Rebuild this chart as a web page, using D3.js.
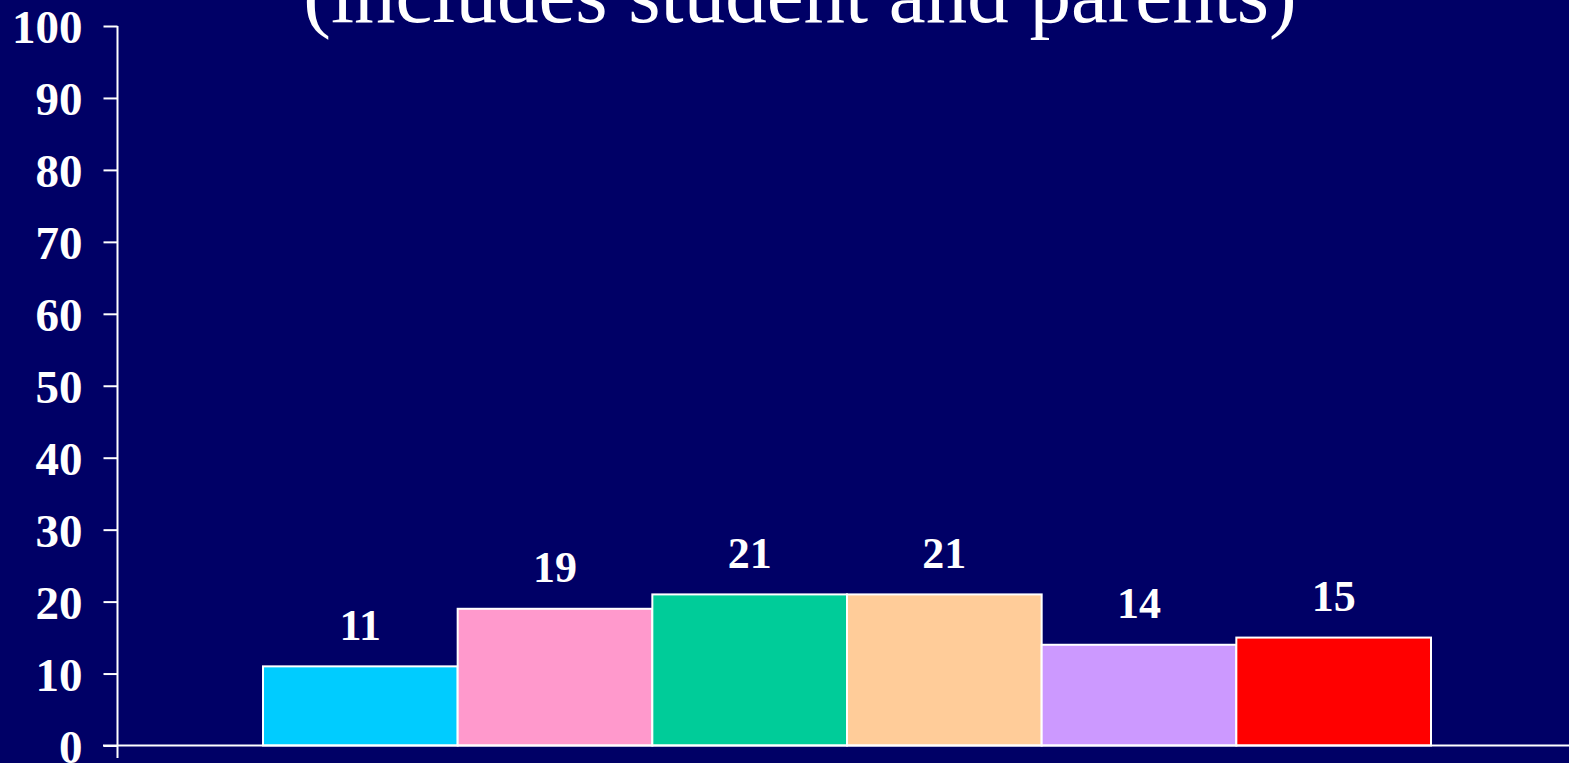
<!DOCTYPE html>
<html>
<head>
<meta charset="utf-8">
<script src="https://cdn.jsdelivr.net/npm/d3@7"></script>
<style>
  html, body { margin: 0; padding: 0; background: #000066; overflow: hidden; }
  svg { display: block; }
</style>
</head>
<body>
<svg id="chart" width="1569" height="763"></svg>
<script>
// Data
const titleText = "(includes student and parents)";
const categories = ["A", "B", "C", "D", "E", "F"];
const values = [11, 19, 21, 21, 14, 15];
const barColors = ["#00CCFF", "#FF99CC", "#00CC99", "#FFCC99", "#CC99FF", "#FF0000"];
const yTicks = [0, 10, 20, 30, 40, 50, 60, 70, 80, 90, 100];

const W = 1569, H = 763;
const svg = d3.select("#chart");
svg.append("rect").attr("width", W).attr("height", H).attr("fill", "#000066");

const y = d3.scaleLinear().domain([0, 100]).range([745.5, 26]);
const x = d3.scaleBand().domain(categories).range([263, 1431]).padding(0);

const serif = "'Liberation Serif', 'Times New Roman', Times, serif";

// Title (top cut off)
svg.append("text")
  .attr("x", 800).attr("y", 22)
  .attr("text-anchor", "middle")
  .attr("fill", "#ffffff")
  .attr("font-family", serif)
  .attr("font-size", 83)
  .text(titleText);

// Bars
svg.selectAll("rect.bar").data(values).enter().append("rect")
  .attr("class", "bar")
  .attr("x", (d, i) => x(categories[i]))
  .attr("y", d => y(d))
  .attr("width", x.bandwidth())
  .attr("height", d => y(0) - y(d))
  .attr("fill", (d, i) => barColors[i])
  .attr("stroke", "#ffffff")
  .attr("stroke-width", 2);

// Value labels
svg.selectAll("text.val").data(values).enter().append("text")
  .attr("class", "val")
  .attr("x", (d, i) => x(categories[i]) + x.bandwidth() / 2)
  .attr("y", d => y(d) - 26.5)
  .attr("text-anchor", "middle")
  .attr("fill", "#ffffff")
  .attr("font-family", serif)
  .attr("font-weight", "bold")
  .attr("font-size", 44)
  .text(d => d);

// Y axis
const yAxis = d3.axisLeft(y).tickValues(yTicks).tickSize(14).tickPadding(21).tickFormat(d3.format("d"));
const gy = svg.append("g").attr("transform", "translate(117.5,0)").call(yAxis);
gy.select(".domain").remove();
gy.selectAll(".tick line").attr("stroke", "#ffffff").attr("stroke-width", 2);
gy.selectAll(".tick text")
  .attr("fill", "#ffffff")
  .attr("font-family", serif)
  .attr("font-weight", "bold")
  .attr("font-size", 47)
  .attr("dy", "0.36em");
gy.append("line")
  .attr("x1", 0).attr("x2", 0)
  .attr("y1", y(100)).attr("y2", 758)
  .attr("stroke", "#ffffff").attr("stroke-width", 2);

// X axis baseline
svg.append("line")
  .attr("x1", 103).attr("x2", W)
  .attr("y1", y(0)).attr("y2", y(0))
  .attr("stroke", "#ffffff").attr("stroke-width", 2);
</script>
</body>
</html>
